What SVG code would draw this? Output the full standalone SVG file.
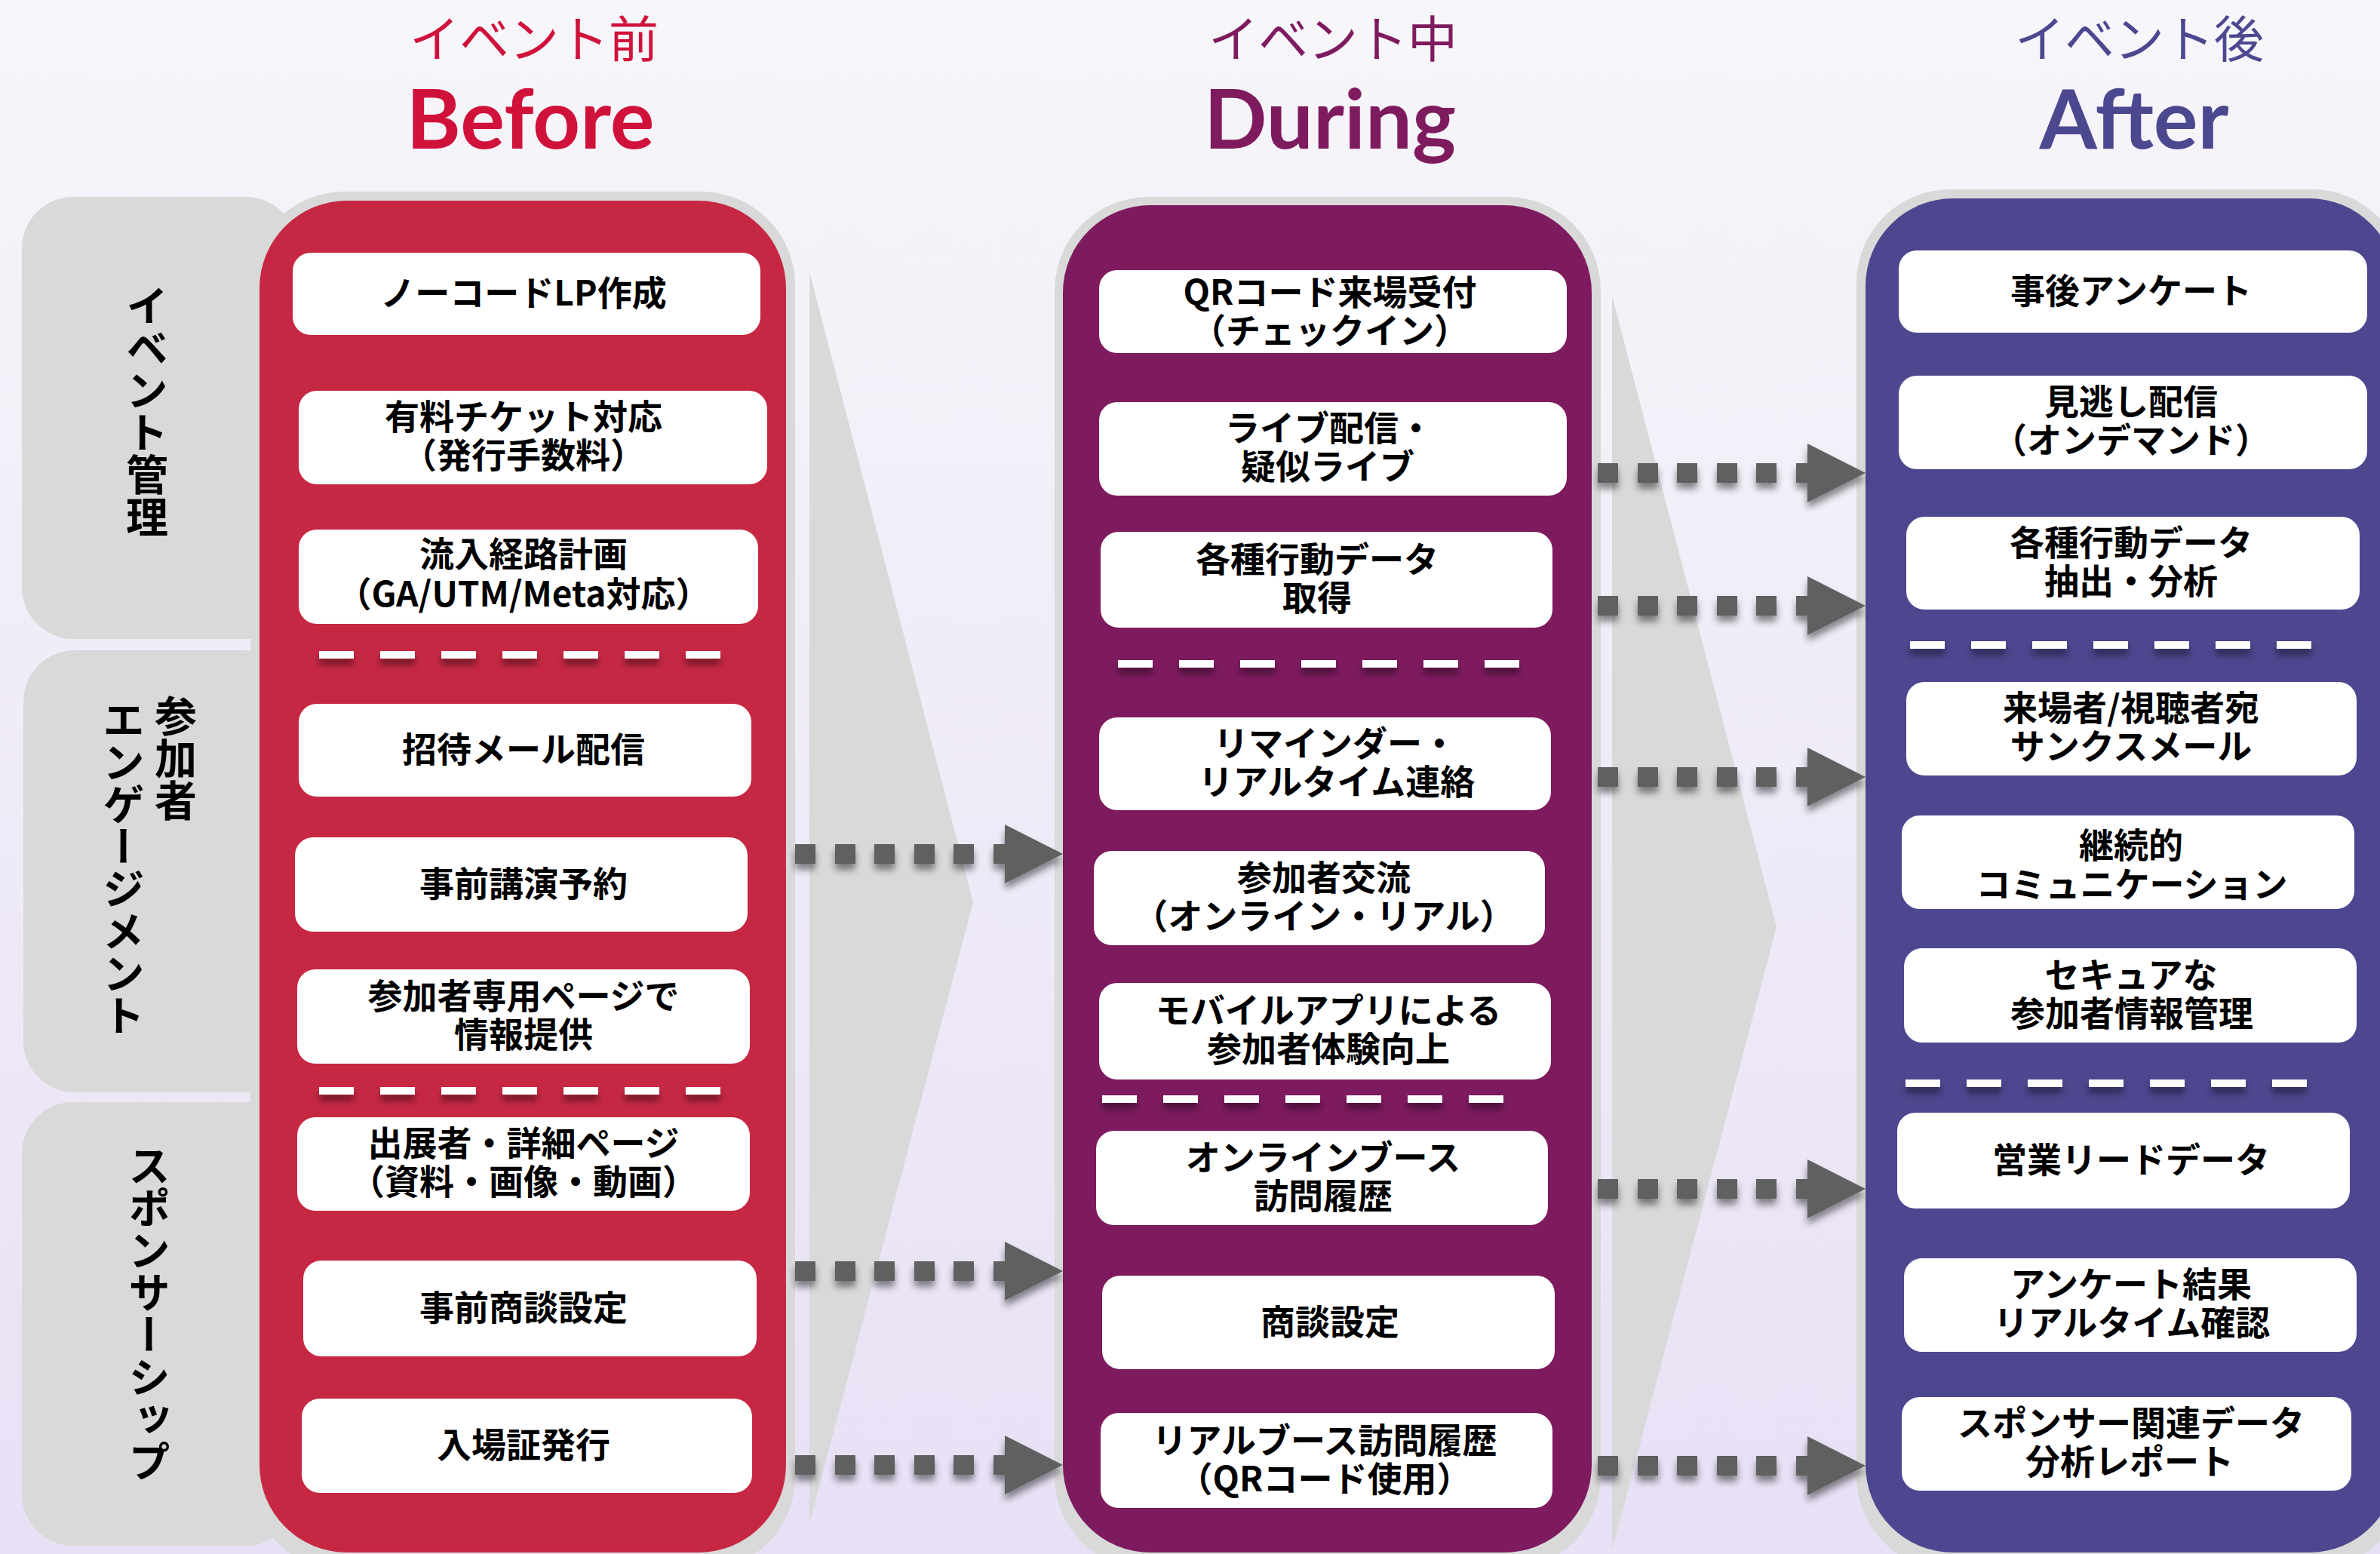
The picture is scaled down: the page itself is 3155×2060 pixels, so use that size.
<svg xmlns="http://www.w3.org/2000/svg" width="3155" height="2060" viewBox="0 0 3155 2060">
<defs>
<linearGradient id="bg" x1="0" y1="0" x2="0" y2="1">
<stop offset="0" stop-color="#f7f6fa"/>
<stop offset="1" stop-color="#e8e0f5"/>
</linearGradient>
<filter id="sh" filterUnits="userSpaceOnUse" x="0" y="0" width="3155" height="2060">
<feDropShadow dx="0" dy="8" stdDeviation="5" flood-color="#000" flood-opacity="0.45"/>
</filter>
<g id="arrow">
<rect x="-355" y="-13" width="27" height="26"/>
<rect x="-302" y="-13" width="27" height="26"/>
<rect x="-250" y="-13" width="27" height="26"/>
<rect x="-197" y="-13" width="27" height="26"/>
<rect x="-145" y="-13" width="27" height="26"/>
<rect x="-92" y="-13" width="17" height="26"/>
<polygon points="-77,-39 0,0 -77,39"/>
</g>
</defs>
<style>
.box{fill:#fff}
.t{font-family:"Noto Sans CJK JP","Noto Sans",sans-serif;font-weight:700;font-size:46px;fill:#000;text-anchor:middle}
.lab{font-family:"Noto Sans CJK JP","Noto Sans",sans-serif;font-weight:700;font-size:56px;fill:#000;writing-mode:vertical-rl}
.side{fill:#d9d9d9}
.rim{fill:#d9d9d9}
.chev{fill:#d9d9d9}
.dash{stroke:#fff;stroke-width:10;stroke-dasharray:46 35;fill:none;filter:url(#sh)}
.jp{font-family:"Noto Sans CJK JP",sans-serif;font-weight:400;font-size:66px;text-anchor:middle}
.en{font-family:Lato,"Noto Sans",sans-serif;font-weight:700;font-size:110px;text-anchor:middle}
.arr{fill:#5f6060;filter:url(#sh)}
</style>
<rect width="3155" height="2060" fill="url(#bg)"/>

<g id="headers">
<text class="jp" x="708" y="76" fill="#d0123b">イベント前</text>
<text class="en" x="703" y="197" fill="#d0123b">Before</text>
<text class="jp" x="1767" y="76" fill="#7e1b5f">イベント中</text>
<text class="en" x="1763" y="197" fill="#7e1b5f">During</text>
<text class="jp" x="2836" y="76" fill="#4c4890">イベント後</text>
<text class="en" x="2829" y="197" fill="#4c4890">After</text>
</g>

<g id="row-labels">
<g id="row-event">
<rect class="side" x="29" y="261" width="365" height="586" rx="68"/>
<text class="lab" x="195" y="377">イベント管理</text>
</g>
<g id="row-engagement">
<rect class="side" x="31" y="862" width="363" height="586" rx="68"/>
<text class="lab"><tspan x="233" y="921">参加者</tspan><tspan x="164" y="926">エンゲージメント</tspan></text>
</g>
<g id="row-sponsor">
<rect class="side" x="29" y="1461" width="365" height="588" rx="68"/>
<text class="lab" x="198" y="1517">スポンサーシップ</text>
</g>
</g>

<g id="chevrons">
<polygon class="chev" points="1073,360 1290,1196 1073,2020"/>
<polygon class="chev" points="2137,392 2355,1229 2137,2055"/>
</g>

<g id="col-before">
<rect class="rim" x="332" y="254" width="722" height="1828" rx="124"/>
<rect x="344" y="266" width="698" height="1792" rx="116" fill="#c62843"/>
<line class="dash" x1="423" y1="868" x2="959" y2="868"/>
<line class="dash" x1="423" y1="1446" x2="959" y2="1446"/>
</g>
<g id="col-during">
<rect class="rim" x="1398" y="261" width="724" height="1820" rx="124"/>
<rect x="1409" y="272" width="701" height="1786" rx="116" fill="#7e1b5f"/>
<line class="dash" x1="1482" y1="880" x2="2018" y2="880"/>
<line class="dash" x1="1461" y1="1457" x2="1997" y2="1457"/>
</g>
<g id="col-after">
<rect class="rim" x="2461" y="251" width="728" height="1830" rx="124"/>
<rect x="2473" y="263" width="704" height="1795" rx="116" fill="#4d478f"/>
<line class="dash" x1="2532" y1="855" x2="3069" y2="855"/>
<line class="dash" x1="2526" y1="1436" x2="3062" y2="1436"/>
</g>

<g id="before-nodes">
<g id="b1"><rect class="box" x="388" y="335" width="620" height="109" rx="24"/><text class="t" x="694" y="405">ノーコードLP作成</text></g>
<g id="b2"><rect class="box" x="396" y="518" width="621" height="124" rx="24"/><text class="t"><tspan x="694" y="569">有料チケット対応</tspan><tspan x="694" y="620">（発行手数料）</tspan></text></g>
<g id="b3"><rect class="box" x="396" y="702" width="609" height="125" rx="24"/><text class="t"><tspan x="694" y="751">流入経路計画</tspan><tspan x="694" y="804">（GA/UTM/Meta対応）</tspan></text></g>
<g id="b4"><rect class="box" x="396" y="933" width="600" height="123" rx="24"/><text class="t" x="694" y="1010">招待メール配信</text></g>
<g id="b5"><rect class="box" x="391" y="1110" width="600" height="125" rx="24"/><text class="t" x="694" y="1188">事前講演予約</text></g>
<g id="b6"><rect class="box" x="394" y="1285" width="600" height="125" rx="24"/><text class="t"><tspan x="694" y="1337">参加者専用ページで</tspan><tspan x="694" y="1388">情報提供</tspan></text></g>
<g id="b7"><rect class="box" x="394" y="1481" width="600" height="124" rx="24"/><text class="t"><tspan x="694" y="1532">出展者・詳細ページ</tspan><tspan x="694" y="1583">（資料・画像・動画）</tspan></text></g>
<g id="b8"><rect class="box" x="402" y="1671" width="601" height="127" rx="24"/><text class="t" x="694" y="1750">事前商談設定</text></g>
<g id="b9"><rect class="box" x="400" y="1854" width="597" height="125" rx="24"/><text class="t" x="694" y="1932">入場証発行</text></g>
</g>

<g id="during-nodes">
<g id="d1"><rect class="box" x="1457" y="358" width="620" height="110" rx="24"/><text class="t"><tspan x="1763" y="404">QRコード来場受付</tspan><tspan x="1763" y="455">（チェックイン）</tspan></text></g>
<g id="d2"><rect class="box" x="1457" y="533" width="620" height="124" rx="24"/><text class="t"><tspan x="1762" y="584">ライブ配信・</tspan><tspan x="1760" y="635">疑似ライブ</tspan></text></g>
<g id="d3"><rect class="box" x="1459" y="705" width="599" height="127" rx="24"/><text class="t"><tspan x="1746" y="758">各種行動データ</tspan><tspan x="1746" y="809">取得</tspan></text></g>
<g id="d4"><rect class="box" x="1457" y="951" width="599" height="123" rx="24"/><text class="t"><tspan x="1770" y="1002">リマインダー・</tspan><tspan x="1772" y="1053">リアルタイム連絡</tspan></text></g>
<g id="d5"><rect class="box" x="1450" y="1128" width="598" height="125" rx="24"/><text class="t"><tspan x="1755" y="1180">参加者交流</tspan><tspan x="1755" y="1231">（オンライン・リアル）</tspan></text></g>
<g id="d6"><rect class="box" x="1457" y="1303" width="599" height="128" rx="24"/><text class="t"><tspan x="1761" y="1356">モバイルアプリによる</tspan><tspan x="1761" y="1407">参加者体験向上</tspan></text></g>
<g id="d7"><rect class="box" x="1453" y="1499" width="599" height="125" rx="24"/><text class="t"><tspan x="1754" y="1551">オンラインブース</tspan><tspan x="1754" y="1602">訪問履歴</tspan></text></g>
<g id="d8"><rect class="box" x="1461" y="1691" width="600" height="124" rx="24"/><text class="t" x="1763" y="1769">商談設定</text></g>
<g id="d9"><rect class="box" x="1459" y="1873" width="599" height="126" rx="24"/><text class="t"><tspan x="1756" y="1926">リアルブース訪問履歴</tspan><tspan x="1756" y="1977">（QRコード使用）</tspan></text></g>
</g>

<g id="after-nodes">
<g id="a1"><rect class="box" x="2517" y="332" width="621" height="109" rx="24"/><text class="t" x="2825" y="402">事後アンケート</text></g>
<g id="a2"><rect class="box" x="2517" y="498" width="621" height="124" rx="24"/><text class="t"><tspan x="2825" y="549">見逃し配信</tspan><tspan x="2825" y="600">（オンデマンド）</tspan></text></g>
<g id="a3"><rect class="box" x="2527" y="685" width="601" height="123" rx="24"/><text class="t"><tspan x="2825" y="736">各種行動データ</tspan><tspan x="2825" y="787">抽出・分析</tspan></text></g>
<g id="a4"><rect class="box" x="2527" y="904" width="597" height="124" rx="24"/><text class="t"><tspan x="2825" y="955">来場者/視聴者宛</tspan><tspan x="2825" y="1006">サンクスメール</tspan></text></g>
<g id="a5"><rect class="box" x="2521" y="1081" width="600" height="124" rx="24"/><text class="t"><tspan x="2825" y="1137">継続的</tspan><tspan x="2826" y="1189">コミュニケーション</tspan></text></g>
<g id="a6"><rect class="box" x="2524" y="1257" width="600" height="125" rx="24"/><text class="t"><tspan x="2825" y="1309">セキュアな</tspan><tspan x="2826" y="1360">参加者情報管理</tspan></text></g>
<g id="a7"><rect class="box" x="2515" y="1475" width="600" height="127" rx="24"/><text class="t" x="2825" y="1554">営業リードデータ</text></g>
<g id="a8"><rect class="box" x="2524" y="1668" width="600" height="124" rx="24"/><text class="t"><tspan x="2825" y="1719">アンケート結果</tspan><tspan x="2826" y="1770">リアルタイム確認</tspan></text></g>
<g id="a9"><rect class="box" x="2521" y="1852" width="596" height="124" rx="24"/><text class="t"><tspan x="2825" y="1903">スポンサー関連データ</tspan><tspan x="2823" y="1954">分析レポート</tspan></text></g>
</g>

<g id="connectors" class="arr">
<use href="#arrow" x="1409" y="1132"/>
<use href="#arrow" x="1409" y="1685"/>
<use href="#arrow" x="1409" y="1942"/>
<use href="#arrow" x="2473" y="627"/>
<use href="#arrow" x="2473" y="803"/>
<use href="#arrow" x="2473" y="1030"/>
<use href="#arrow" x="2473" y="1576"/>
<use href="#arrow" x="2473" y="1943"/>
</g>
</svg>
